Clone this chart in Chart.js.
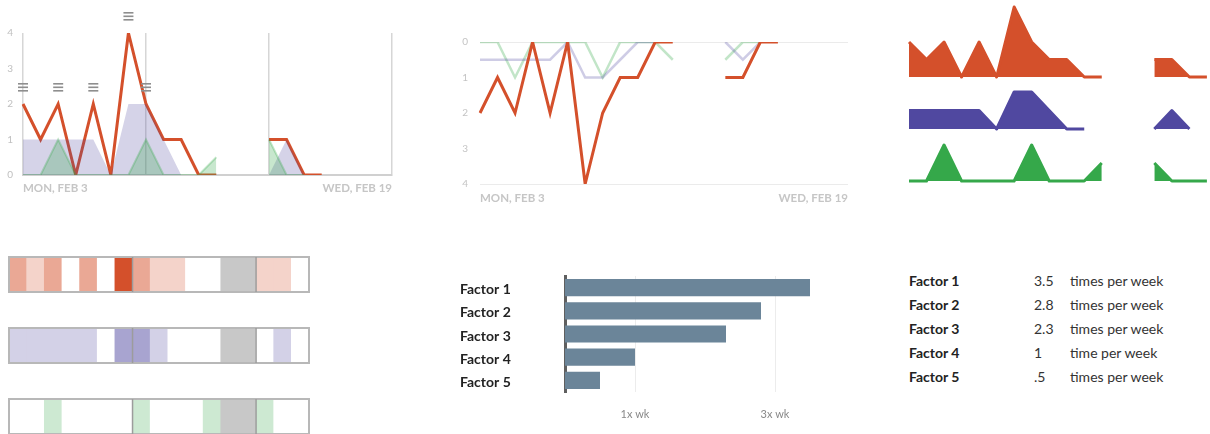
<!DOCTYPE html>
<html>
<head>
<meta charset="utf-8">
<script src="https://cdn.jsdelivr.net/npm/chart.js@4.4.0/dist/chart.umd.min.js"></script>
<style>
  html, body { margin: 0; padding: 0; background: #fff; }
  body { width: 1210px; height: 434px; position: relative; overflow: hidden; font-family: Lato, "Open Sans", sans-serif; }
  canvas { position: absolute; display: block; }
  #factorTable { position: absolute; left: 909px; top: 269px; font-size: 14px; color: #222; }
  #factorTable .row { position: relative; height: 24px; line-height: 24px; width: 300px; }
  #factorTable .name { position: absolute; left: 0; font-weight: bold; }
  #factorTable .val { position: absolute; left: 125px; color: #333; }
  #factorTable .unit { position: absolute; left: 161px; color: #333; }
</style>
</head>
<body>
<canvas id="countChart" width="400" height="200" style="left:0;top:0"></canvas>
<canvas id="trendChart" width="420" height="210" style="left:440px;top:0"></canvas>
<canvas id="sparkRed" width="372" height="76" style="left:907px;top:3px"></canvas>
<canvas id="sparkPurple" width="372" height="43" style="left:907px;top:88px"></canvas>
<canvas id="sparkGreen" width="372" height="42" style="left:907px;top:141px"></canvas>
<canvas id="heatRed" width="302" height="37" style="left:8px;top:256px"></canvas>
<canvas id="heatPurple" width="302" height="37" style="left:8px;top:327px"></canvas>
<canvas id="heatGreen" width="302" height="37" style="left:8px;top:398px"></canvas>
<canvas id="factorChart" width="400" height="172" style="left:440px;top:262px"></canvas>
<div id="factorTable"></div>

<script>
// Data (one value per day, null = no entry)
var redCounts = [2, 1, 2, 0, 2, 0, 4, 2, 1, 1, 0, 0, null, null, 1, 1, 0, 0];
var purpleCounts = [1, 1, 1, 1, 1, 0, 2, 2, 1, 0, 0, null, null, null, 0, 1, 0, null];
var greenCounts = [0, 0, 1, 0, 0, 0, 0, 1, 0, 0, 0, 0.5, null, null, 0.5, 0, 0, 0];
// first panel draws the second green bump higher
var greenCountsTop = [0, 0, 1, 0, 0, 0, 0, 1, 0, 0, 0, 0.5, null, null, 1, 0, 0, null];
// second panel (inverted axis)
var purpleTrend = [0.5, 0.5, 0.5, 0.5, 0.5, 0, 1, 1, 0.5, 0, 0, null, null, null, 0, 0.5, 0, null];
var greenTrend = [0, 0, 1, 0, 0, 0, 0, 1, 0, 0, 0, 0.5, null, null, 0.5, 0, 0, null];

var noteDays = [0, 2, 4, 6, 7];
var missingDays = [12, 13];
var tickLabels = ['MON, FEB 3', 'WED, FEB 19'];

var factorNames = ['Factor 1', 'Factor 2', 'Factor 3', 'Factor 4', 'Factor 5'];
var factorValues = [3.5, 2.8, 2.3, 1, 0.5];
var factorTicks = [1, 3];
var factorTickLabels = ['1x wk', '3x wk'];

// Farger
var RED = '#d4502b';
var PURPLE = [80, 72, 160];
var GREEN = [53, 168, 74];
function rgba(c, a) { return 'rgba(' + c[0] + ',' + c[1] + ',' + c[2] + ',' + a + ')'; }
// solid tint on white (no seams between cells)
function tint(c, a) {
    return 'rgb(' + c.map(function (v) { return Math.round(v * a + 255 * (1 - a)); }).join(',') + ')';
}

Chart.defaults.font.family = 'Lato, "Open Sans", sans-serif';
Chart.defaults.animation = false;
Chart.defaults.plugins.legend.display = false;
Chart.defaults.plugins.tooltip.enabled = false;

var slotCount = 22;
var slots = [];
for (var i = 0; i < slotCount; i++) slots.push(i);
var heatDays = 17;
var heatSlots = slots.slice(0, heatDays);

function dateTick(val, index) {
    if (index === 0) return tickLabels[0];
    if (index === slotCount - 1) return tickLabels[1];
    return '';
}

// Note icon (three small bars) drawn above the point
var noteIcon = document.createElement('canvas');
noteIcon.width = 12;
noteIcon.height = 44;
var nctx = noteIcon.getContext('2d');
nctx.fillStyle = '#8e8e8e';
[1, 4.5, 8].forEach(function (y) { nctx.fillRect(1, y, 10, 1.6); });

var noteData = slots.map(function (i) {
    return noteDays.indexOf(i) >= 0 ? redCounts[i] : null;
});

// Panel 1: count chart
new Chart(document.getElementById('countChart'), {
    type: 'line',
    data: {
        labels: slots,
        datasets: [
            { data: noteData, showLine: false, pointStyle: noteIcon, pointRadius: 6, clip: false, order: 0 },
            { data: greenCountsTop, fill: 'origin', backgroundColor: rgba(GREEN, 0.27),
              borderColor: rgba(GREEN, 0.3), borderWidth: 2, pointRadius: 0, tension: 0, order: 1 },
            { data: purpleCounts, fill: 'origin', backgroundColor: rgba(PURPLE, 0.24),
              borderWidth: 0, pointRadius: 0, tension: 0, order: 2 },
            { data: redCounts, borderColor: RED, borderWidth: 3, borderJoinStyle: 'miter',
              pointRadius: 0, tension: 0, fill: false, order: 3 }
        ]
    },
    options: {
        responsive: false,
        devicePixelRatio: 1,
        layout: { padding: { top: 33, right: 8 } },
        scales: {
            x: {
                afterFit: function (s) { s.height = 25; },
                grid: {
                    color: function (c) { return c.index % 7 === 0 ? '#d6d6d6' : 'rgba(0,0,0,0)'; },
                    lineWidth: 1.5,
                    drawTicks: false
                },
                border: { display: true, color: '#d0d0d0', width: 2 },
                ticks: { autoSkip: false, maxRotation: 0, align: 'inner', padding: 6,
                         color: '#c6c6c6', font: { size: 11.5, weight: 'bold' }, callback: dateTick }
            },
            y: {
                min: 0, max: 4,
                afterFit: function (s) { s.width = 23; },
                grid: { display: false, drawTicks: false },
                border: { display: false },
                ticks: { stepSize: 1, padding: 10, color: '#c0c0c0', font: { size: 10 } }
            }
        }
    }
});

// Panel 2: inverted trend lines
new Chart(document.getElementById('trendChart'), {
    type: 'line',
    data: {
        labels: slots,
        datasets: [
            { data: redCounts, borderColor: RED, borderWidth: 3, borderJoinStyle: 'miter', pointRadius: 0, tension: 0 },
            { data: purpleTrend, borderColor: rgba(PURPLE, 0.28), borderWidth: 2.5, pointRadius: 0, tension: 0 },
            { data: greenTrend, borderColor: rgba(GREEN, 0.3), borderWidth: 2.5, pointRadius: 0, tension: 0 }
        ]
    },
    options: {
        responsive: false,
        devicePixelRatio: 1,
        layout: { padding: { top: 42, right: 12 } },
        scales: {
            x: {
                afterFit: function (s) { s.height = 26; },
                grid: { display: false, drawTicks: false },
                border: { display: false },
                ticks: { autoSkip: false, maxRotation: 0, align: 'inner', padding: 7,
                         color: '#c6c6c6', font: { size: 11.5, weight: 'bold' }, callback: dateTick }
            },
            y: {
                reverse: true, min: 0, max: 4,
                afterFit: function (s) { s.width = 40; },
                grid: {
                    color: function (c) { return (c.tick.value === 0 || c.tick.value === 4) ? '#ebebeb' : 'rgba(0,0,0,0)'; },
                    drawTicks: false
                },
                border: { display: false },
                ticks: { stepSize: 1, padding: 12, color: '#c4c4c4', font: { size: 10 } }
            }
        }
    }
});

// Panel 3: sparklines
function sparkline(id, values, color, max) {
    new Chart(document.getElementById(id), {
        type: 'line',
        data: {
            labels: slots,
            datasets: [{ data: values, fill: 'origin', backgroundColor: color, borderColor: color,
                         borderWidth: 3, borderJoinStyle: 'round', pointRadius: 0, tension: 0, clip: 3 }]
        },
        options: {
            responsive: false,
            devicePixelRatio: 1,
            layout: { padding: { top: 4, bottom: 2, left: 2, right: 2 } },
            scales: {
                x: { display: false },
                y: { display: false, min: 0, max: max }
            }
        }
    });
}
sparkline('sparkRed', redCounts, RED, 4);
sparkline('sparkPurple', purpleCounts, rgba(PURPLE, 1), 2);
sparkline('sparkGreen', greenCounts, rgba(GREEN, 1), 1);

// Heatmaps
var heatFrame = {
    id: 'heatFrame',
    afterDatasetsDraw: function (chart) {
        var a = chart.chartArea, ctx = chart.ctx, x = chart.scales.x;
        ctx.save();
        ctx.strokeStyle = '#b8b8b8';
        ctx.lineWidth = 2;
        ctx.strokeRect(a.left, a.top, a.right - a.left, a.bottom - a.top);
        ctx.strokeStyle = '#9c9c9c';
        ctx.lineWidth = 1.5;
        [7, 14].forEach(function (d) {
            var px = (x.getPixelForValue(d - 1) + x.getPixelForValue(d)) / 2;
            ctx.beginPath();
            ctx.moveTo(px, a.top);
            ctx.lineTo(px, a.bottom);
            ctx.stroke();
        });
        ctx.restore();
    }
};

function heatmap(id, values, color) {
    var cells = heatSlots.map(function (i) {
        if (missingDays.indexOf(i) >= 0) return '#c8c8c8';
        var v = values[i] || 0;
        return tint(color, Math.min(1, Math.ceil(v) / 4));
    });
    new Chart(document.getElementById(id), {
        type: 'bar',
        data: {
            labels: heatSlots,
            datasets: [{ data: heatSlots.map(function () { return 1; }), backgroundColor: cells,
                         borderWidth: 0, barPercentage: 1, categoryPercentage: 1 }]
        },
        options: {
            responsive: false,
            devicePixelRatio: 1,
            layout: { padding: 1 },
            scales: {
                x: { display: false },
                y: { display: false, min: 0, max: 1 }
            }
        },
        plugins: [heatFrame]
    });
}
heatmap('heatRed', redCounts, [212, 80, 43]);
heatmap('heatPurple', purpleCounts, PURPLE);
heatmap('heatGreen', greenCounts, GREEN);

// Factor bars
new Chart(document.getElementById('factorChart'), {
    type: 'bar',
    data: {
        labels: factorNames,
        datasets: [{ data: factorValues, backgroundColor: '#6b8599', barPercentage: 0.74, categoryPercentage: 1 }]
    },
    options: {
        indexAxis: 'y',
        responsive: false,
        devicePixelRatio: 1,
        layout: { padding: { left: 20, top: 14, right: 30 } },
        scales: {
            x: {
                min: 0, max: 3.5,
                afterFit: function (s) { s.height = 42; },
                afterBuildTicks: function (s) { s.ticks = factorTicks.map(function (v) { return { value: v }; }); },
                grid: { color: '#ececec', drawTicks: false },
                border: { display: false },
                ticks: {
                    padding: 16, color: '#888', font: { size: 11 },
                    callback: function (v) { return factorTickLabels[factorTicks.indexOf(v)]; }
                }
            },
            y: {
                afterFit: function (s) { s.width = 105; },
                grid: { display: false },
                border: { display: true, color: '#5f5f5f', width: 3 },
                ticks: { crossAlign: 'far', labelOffset: 2, color: '#222', font: { size: 14, weight: 'bold' } }
            }
        }
    }
});

// Tabell
var table = document.getElementById('factorTable');
factorNames.forEach(function (name, i) {
    var v = factorValues[i];
    var row = document.createElement('div');
    row.className = 'row';
    row.innerHTML = '<span class="name">' + name + '</span>' +
        '<span class="val">' + String(v).replace(/^0\./, '.') + '</span>' +
        '<span class="unit">' + (v === 1 ? 'time per week' : 'times per week') + '</span>';
    table.appendChild(row);
});
</script>
</body>
</html>
